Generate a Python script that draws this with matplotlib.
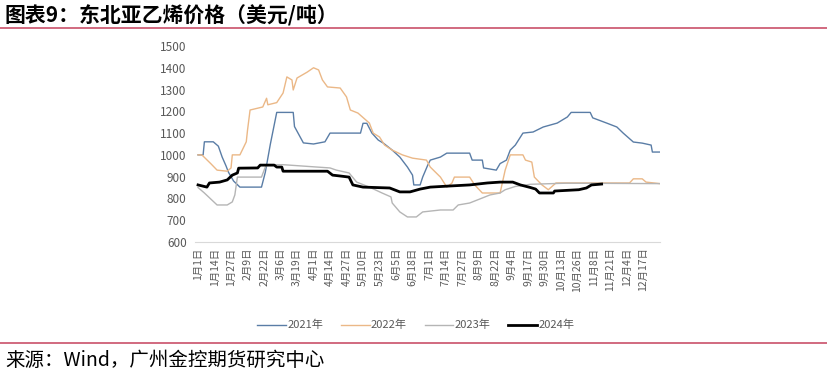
import matplotlib.pyplot as plt
from matplotlib.lines import Line2D

plt.rcParams['font.family'] = ['Noto Sans CJK SC', 'DejaVu Sans']

# x = day of year (0 = 1月1日)
days_2021 = [0, 4, 5, 12, 16, 19, 22, 24, 28, 33, 50, 53, 57, 62, 75, 76, 83, 91, 100, 104,
             128, 130, 133, 137, 142, 146, 153, 159, 165, 169, 170, 175, 177, 181, 183, 191,
             196, 214, 216, 224, 225, 235, 238, 243, 246, 250, 256, 264, 272, 283, 291, 294,
             309, 311, 322, 330, 335, 343, 350, 357, 358, 364]
vals_2021 = [1000, 1000, 1060, 1060, 1040, 990, 950, 920, 880, 852, 852, 920, 1050, 1195, 1195,
             1130, 1055, 1050, 1060, 1100, 1100, 1145, 1145, 1100, 1068, 1054, 1022, 990, 944,
             907, 862, 862, 898, 953, 976, 990, 1008, 1008, 976, 976, 940, 930, 960, 976, 1022,
             1045, 1100, 1105, 1128, 1146, 1174, 1195, 1195, 1170, 1146, 1128, 1100, 1059, 1054,
             1045, 1013, 1013]

days_2022 = [0, 3, 10, 15, 23, 26, 27, 33, 38, 39, 41, 51, 54, 55, 62, 67, 70, 74, 75, 78, 86,
             91, 95, 98, 102, 112, 117, 120, 126, 135, 138, 143, 147, 153, 161, 169, 180, 183,
             191, 196, 200, 202, 214, 218, 224, 238, 242, 246, 256, 258, 263, 265, 271, 276,
             282, 340, 343, 350, 353, 364]
vals_2022 = [1000, 1000, 960, 930, 925, 940, 1000, 1000, 1060, 1114, 1206, 1220, 1260, 1230,
             1240, 1284, 1358, 1344, 1298, 1353, 1380, 1400, 1390, 1344, 1312, 1307, 1266, 1206,
             1192, 1146, 1100, 1082, 1045, 1022, 1000, 985, 976, 944, 898, 852, 870, 898, 898,
             862, 825, 825, 930, 1000, 1000, 976, 967, 898, 862, 840, 871, 871, 890, 890, 875, 868]

days_2023 = [0, 5, 15, 23, 27, 29, 31, 50, 53, 55, 67, 94, 104, 109, 119, 125, 135, 145, 152,
             153, 159, 165, 172, 177, 191, 201, 205, 214, 224, 230, 238, 242, 250, 262, 290, 364]
vals_2023 = [850, 825, 770, 770, 784, 816, 898, 898, 944, 955, 955, 944, 940, 930, 917, 875,
             852, 825, 807, 779, 738, 715, 715, 738, 747, 747, 770, 779, 802, 816, 825, 840,
             855, 865, 870, 868]

days_2024 = [0, 7, 9, 17, 23, 27, 31, 32, 47, 49, 60, 62, 66, 67, 102, 106, 112, 119, 122, 130,
             151, 159, 167, 175, 183, 198, 214, 228, 238, 248, 254, 262, 266, 269, 280, 281,
             300, 306, 310, 318]
vals_2024 = [862, 852, 871, 875, 885, 907, 917, 939, 940, 953, 953, 944, 944, 925, 925, 907,
             903, 898, 862, 852, 848, 830, 830, 843, 852, 857, 862, 871, 875, 875, 862, 850,
             843, 825, 825, 834, 840, 848, 862, 866]

tick_days = list(range(0, 352, 13))
tick_labels = ['1月1日', '1月14日', '1月27日', '2月9日', '2月22日', '3月6日', '3月19日', '4月1日',
               '4月14日', '4月27日', '5月10日', '5月23日', '6月5日', '6月18日', '7月1日', '7月14日',
               '7月27日', '8月9日', '8月22日', '9月4日', '9月17日', '9月30日', '10月13日',
               '10月26日', '11月8日', '11月21日', '12月4日', '12月17日']

series = [('2021年', days_2021, vals_2021, '#5A7DA6', 1.0),
          ('2022年', days_2022, vals_2022, '#EBB887', 1.0),
          ('2023年', days_2023, vals_2023, '#B5B5B5', 1.0),
          ('2024年', days_2024, vals_2024, '#000000', 2.0)]

fig = plt.figure(figsize=(8.28, 3.76), dpi=100)
ax = fig.add_axes([0.2355, 0.3564, 0.5616, 0.5213])

for name, d, v, c, lw in series:
    ax.plot(d, v, color=c, lw=lw, label=name)

ax.set_xlim(-2.4, 364)
ax.set_ylim(600, 1500)
ax.set_yticks(range(600, 1501, 100))
ax.set_xticks(tick_days)
ax.set_xticklabels(tick_labels, rotation=90, fontsize=7.5, color='#595959')
ax.tick_params(axis='y', labelsize=8.5, colors='#595959', length=0, pad=6)
ax.tick_params(axis='x', length=0, pad=4)
for s in ['top', 'right', 'left']:
    ax.spines[s].set_visible(False)
ax.spines['bottom'].set_color('#D9D9D9')

handles = [Line2D([], [], color=c, lw=lw) for _, _, _, c, lw in series]
fig.legend(handles, [s[0] for s in series], loc='center', bbox_to_anchor=(0.502, 0.135),
           ncol=4, frameon=False, fontsize=8, handlelength=2.6, columnspacing=1.6,
           handletextpad=0.1, labelcolor='#595959')

fig.text(0.006, 0.958, '图表9：东北亚乙烯价格（美元/吨）', fontsize=15, fontweight='bold',
         va='center', ha='left')
fig.add_artist(Line2D([0.0, 1.0], [0.925, 0.925], color='#C9506A', lw=1.2,
                      transform=fig.transFigure))
fig.add_artist(Line2D([0.0, 1.0], [0.088, 0.088], color='#C9506A', lw=1.2,
                      transform=fig.transFigure))
fig.text(0.006, 0.042, '来源：Wind，广州金控期货研究中心', fontsize=14, va='center', ha='left')

fig.savefig('out.png', dpi=100)
